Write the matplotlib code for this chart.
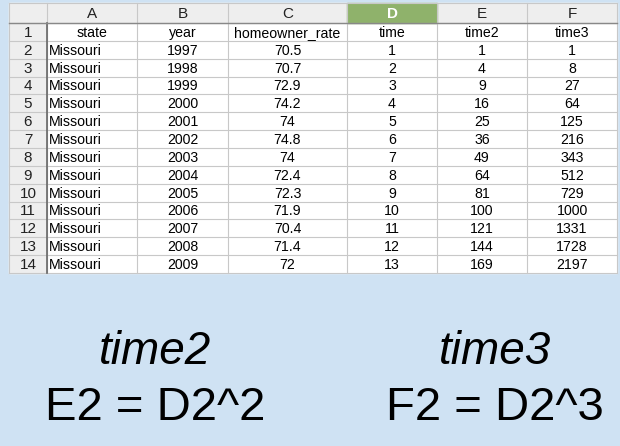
import matplotlib.pyplot as plt
from matplotlib.patches import Rectangle

columns = ['A', 'B', 'C', 'D', 'E', 'F']
header = ['state', 'year', 'homeowner_rate', 'time', 'time2', 'time3']
state = ['Missouri'] * 13
year = [1997, 1998, 1999, 2000, 2001, 2002, 2003, 2004, 2005, 2006, 2007, 2008, 2009]
homeowner_rate = ['70.5', '70.7', '72.9', '74.2', '74', '74.8', '74', '72.4', '72.3', '71.9', '70.4', '71.4', '72']
time = [1, 2, 3, 4, 5, 6, 7, 8, 9, 10, 11, 12, 13]
time2 = [1, 4, 9, 16, 25, 36, 49, 64, 81, 100, 121, 144, 169]
time3 = [1, 8, 27, 64, 125, 216, 343, 512, 729, 1000, 1331, 1728, 2197]

plt.rcParams['font.family'] = ['Liberation Sans', 'DejaVu Sans']
fig = plt.figure(figsize=(6.2, 4.46), dpi=100)
fig.patch.set_facecolor('#cfe2f3')
ax = fig.add_axes([0, 0, 1, 1])
ax.set_xlim(0, 620)
ax.set_ylim(446, 0)
ax.axis('off')

xs = [9, 47, 137, 228, 347, 437, 527, 617]
top, head_h, row_h = 3, 20, 17.85
nrows = 14
bottom = top + head_h + nrows * row_h

# sheet background
ax.add_patch(Rectangle((xs[0], top), xs[-1] - xs[0], bottom - top, color='white', zorder=0))
# column header
ax.add_patch(Rectangle((xs[0], top), xs[-1] - xs[0], head_h, color='#eeeeee', zorder=1))
ax.add_patch(Rectangle((xs[4], top), xs[5] - xs[4], head_h, color='#8fb26b', zorder=1))
# row header
ax.add_patch(Rectangle((xs[0], top + head_h), xs[1] - xs[0], nrows * row_h, color='#eeeeee', zorder=1))

for i, c in enumerate(columns):
    cx = (xs[i + 1] + xs[i + 2]) / 2
    ax.text(cx, top + head_h / 2 + 1, c, ha='center', va='center', fontsize=11,
            color='white' if c == 'D' else '#222222', weight='bold' if c == 'D' else 'normal', zorder=3)

rows = [header] + [[state[k], year[k], homeowner_rate[k], time[k], time2[k], time3[k]] for k in range(13)]
for r, vals in enumerate(rows):
    cy = top + head_h + (r + 0.5) * row_h
    ax.text((xs[0] + xs[1]) / 2, cy + 1, str(r + 1), ha='center', va='center', fontsize=11, color='#222222', zorder=3)
    for i, v in enumerate(vals):
        if i == 0 and r > 0:
            ax.text(xs[1] + 2, cy + 1, str(v), ha='left', va='center', fontsize=10.2, color='black', zorder=3)
        else:
            ax.text((xs[i + 1] + xs[i + 2]) / 2, cy + 1, str(v), ha='center', va='center', fontsize=10.2, color='black', zorder=3)

# grid lines
for r in range(nrows + 1):
    y = top + head_h + r * row_h
    ax.plot([xs[0], xs[-1]], [y, y], color='#c8c8c8', lw=0.8, zorder=2)
ax.plot([xs[0], xs[-1]], [top, top], color='#c8c8c8', lw=0.8, zorder=2)
for x in xs:
    ax.plot([x, x], [top, bottom], color='#c8c8c8', lw=0.8, zorder=2)
ax.plot([xs[1], xs[1]], [top + head_h, bottom], color='#666666', lw=1.2, zorder=2)
ax.plot([xs[0], xs[-1]], [top + head_h, top + head_h], color='#888888', lw=1, zorder=2)

ax.text(155, 352, 'time2', ha='center', va='center', fontsize=33, style='italic')
ax.text(155, 408, 'E2 = D2^2', ha='center', va='center', fontsize=34)
ax.text(495, 352, 'time3', ha='center', va='center', fontsize=33, style='italic')
ax.text(495, 408, 'F2 = D2^3', ha='center', va='center', fontsize=34)

fig.savefig('out.png', dpi=100, facecolor=fig.get_facecolor())
